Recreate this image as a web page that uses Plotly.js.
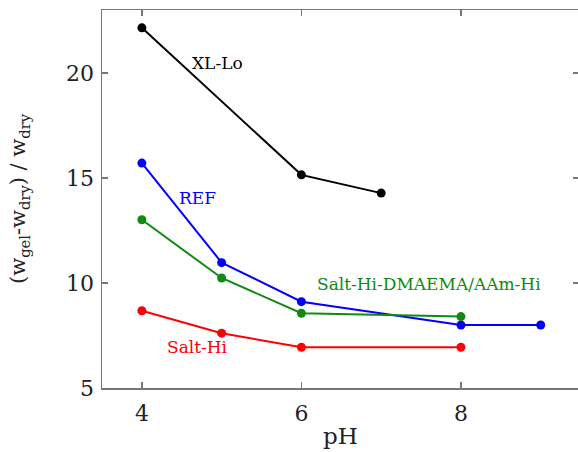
<!DOCTYPE html>
<html>
<head>
<meta charset="utf-8">
<script src="https://cdn.plot.ly/plotly-3.0.1.min.js"></script>
<style>
html,body{margin:0;padding:0;overflow:hidden;background:#fff;}
#chart{width:581px;height:452px;}
</style>
</head>
<body>
<div id="chart"></div>
<script>
// Data
var xlLoPH = [4, 6, 7];
var xlLoVals = [22.15, 15.15, 14.28];

var refPH = [4, 5, 6, 8, 9];
var refVals = [15.71, 10.97, 9.11, 8.0, 8.0];

var dmaemaPH = [4, 5, 6, 8];
var dmaemaVals = [13.01, 10.24, 8.56, 8.40];

var saltHiPH = [4, 5, 6, 8];
var saltHiVals = [8.68, 7.61, 6.94, 6.94];

var seriesNames = ['XL-Lo', 'REF', 'Salt-Hi-DMAEMA/AAm-Hi', 'Salt-Hi'];
var seriesColors = ['#000000', '#0000ff', '#108a10', '#ff0000'];

var xTicks = [4, 6, 8];
var yTicks = [5, 10, 15, 20];

var serif = 'DejaVu Serif, Liberation Serif, serif';

function tr(x, y, i) {
  return {
    x: x, y: y, name: seriesNames[i], type: 'scatter', mode: 'lines+markers',
    line: {color: seriesColors[i], width: 2},
    marker: {color: seriesColors[i], size: 9},
    showlegend: false, hoverinfo: 'skip'
  };
}

var data = [
  tr(xlLoPH, xlLoVals, 0),
  tr(refPH, refVals, 1),
  tr(dmaemaPH, dmaemaVals, 2),
  tr(saltHiPH, saltHiVals, 3)
];

var annotations = [
  {x: 4.95, y: 20.5, text: seriesNames[0], color: seriesColors[0]},
  {x: 4.7, y: 14.05, text: seriesNames[1], color: seriesColors[1]},
  {x: 7.6, y: 9.93, text: seriesNames[2], color: seriesColors[2]},
  {x: 4.7, y: 6.95, text: seriesNames[3], color: seriesColors[3]}
].map(function(a){
  return {x: a.x, y: a.y, xref: 'x', yref: 'y', text: a.text, showarrow: false,
          font: {family: serif, size: 17, color: a.color}};
});

var layout = {
  width: 581, height: 452,
  margin: {l: 102, r: 2, t: 10, b: 64},
  paper_bgcolor: '#ffffff', plot_bgcolor: '#ffffff',
  font: {family: serif, color: '#000'},
  xaxis: {
    range: [3.5, 9.48], tickvals: xTicks, ticktext: xTicks.map(String),
    ticks: 'inside', ticklen: 6, tickcolor: '#777', tickwidth: 1.3,
    showline: true, linecolor: '#777', linewidth: 1.5, mirror: 'ticks',
    showgrid: false, zeroline: false,
    tickfont: {family: serif, size: 22, color: '#222'},
    ticklabelstandoff: 5,
    title: {text: 'pH', font: {family: serif, size: 23, color: '#222'}, standoff: 3}
  },
  yaxis: {
    range: [5, 23], tickvals: yTicks, ticktext: yTicks.map(String),
    ticks: 'inside', ticklen: 6, tickcolor: '#777', tickwidth: 1.3,
    showline: true, linecolor: '#777', linewidth: 1.5, mirror: 'ticks',
    showgrid: false, zeroline: false,
    tickfont: {family: serif, size: 22, color: '#222'},
    ticklabelstandoff: 2,
    title: {text: '(w<sub>gel</sub>-w<sub>dry</sub>) / w<sub>dry</sub>',
            font: {family: serif, size: 21, color: '#222'}, standoff: 34}
  },
  annotations: annotations
};

Plotly.newPlot('chart', data, layout, {displayModeBar: false, staticPlot: true});
</script>
</body>
</html>
